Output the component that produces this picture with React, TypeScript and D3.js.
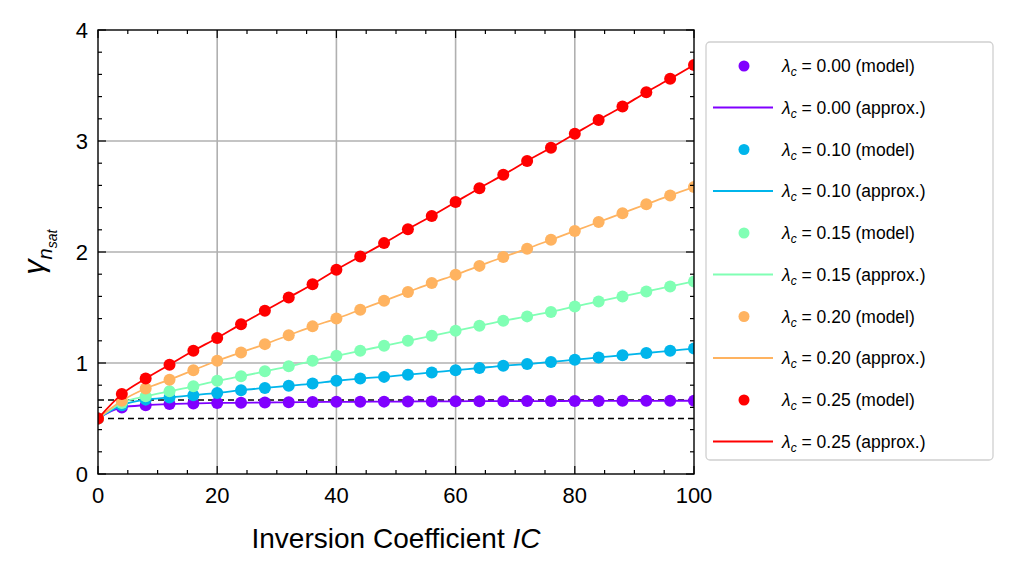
import React from 'react';
import * as d3 from 'd3';

const icValues = [0, 4, 8, 12, 16, 20, 24, 28, 32, 36, 40, 44, 48, 52, 56, 60, 64, 68, 72, 76, 80, 84, 88, 92, 96, 100];
const lambdas = ['0.00', '0.10', '0.15', '0.20', '0.25'];
const colors = ['#8000ff', '#00b5eb', '#80ffb4', '#ffb360', '#ff0000'];
const gamma00 = [0.5, 0.6, 0.62, 0.63, 0.635, 0.64, 0.642, 0.644, 0.646, 0.648, 0.65, 0.651, 0.652, 0.653, 0.654, 0.655, 0.656, 0.656, 0.657, 0.657, 0.658, 0.658, 0.659, 0.659, 0.66, 0.66];
const gamma10 = [0.5, 0.62, 0.67, 0.69, 0.71, 0.73, 0.755, 0.775, 0.795, 0.815, 0.84, 0.86, 0.875, 0.895, 0.915, 0.935, 0.955, 0.975, 0.99, 1.01, 1.03, 1.05, 1.07, 1.09, 1.11, 1.13];
const gamma15 = [0.5, 0.64, 0.7, 0.745, 0.79, 0.84, 0.88, 0.925, 0.97, 1.02, 1.065, 1.11, 1.155, 1.2, 1.245, 1.29, 1.335, 1.38, 1.42, 1.46, 1.51, 1.555, 1.6, 1.645, 1.69, 1.735];
const gamma20 = [0.5, 0.66, 0.77, 0.85, 0.935, 1.02, 1.095, 1.17, 1.25, 1.33, 1.4, 1.48, 1.56, 1.64, 1.72, 1.795, 1.875, 1.955, 2.03, 2.11, 2.19, 2.27, 2.35, 2.43, 2.51, 2.585];
const gamma25 = [0.5, 0.72, 0.86, 0.985, 1.11, 1.225, 1.35, 1.47, 1.59, 1.71, 1.84, 1.96, 2.08, 2.205, 2.325, 2.45, 2.575, 2.695, 2.82, 2.94, 3.065, 3.19, 3.31, 3.44, 3.56, 3.685];
const series = [gamma00, gamma10, gamma15, gamma20, gamma25];
const dashedLevels = [0.5, 2 / 3];
const xTicks = [0, 20, 40, 60, 80, 100];
const yTicks = [0, 1, 2, 3, 4];

const L = 98, R = 694, T = 30, B = 474;
const font = '"Liberation Sans", Arial, sans-serif';

export default function App() {
  const x = d3.scaleLinear().domain([0, 100]).range([L, R]);
  const y = d3.scaleLinear().domain([0, 4]).range([B, T]);
  const line = d3.line<number>().x((_, i) => x(icValues[i])).y(d => y(d)).curve(d3.curveMonotoneX);
  const xMinor = d3.range(0, 101, 5);
  const yMinor = d3.range(0, 4.001, 0.2);

  return (
    <svg width={1012} height={574} style={{ position: 'absolute', left: 0, top: 0, fontFamily: font }}>
      <rect width={1012} height={574} fill="#fff" />
      <defs>
        <clipPath id="plot"><rect x={L} y={T} width={R - L} height={B - T} /></clipPath>
      </defs>
      {xTicks.slice(1, -1).map(t => (
        <line key={'gx' + t} x1={x(t)} x2={x(t)} y1={T} y2={B} stroke="#b0b0b0" strokeWidth={1.6} />
      ))}
      {yTicks.slice(1, -1).map(t => (
        <line key={'gy' + t} x1={L} x2={R} y1={y(t)} y2={y(t)} stroke="#b0b0b0" strokeWidth={1.6} />
      ))}
      <g clipPath="url(#plot)">
        {dashedLevels.map(v => (
          <line key={v} x1={L} x2={R} y1={y(v)} y2={y(v)} stroke="#000" strokeWidth={1.6} strokeDasharray="6 4" />
        ))}
        {series.map((s, k) => (
          <g key={k}>
            <path d={line(s)!} fill="none" stroke={colors[k]} strokeWidth={1.8} />
            {s.map((v, i) => (
              <circle key={i} cx={x(icValues[i])} cy={y(v)} r={6} fill={colors[k]} />
            ))}
          </g>
        ))}
      </g>
      <rect x={L} y={T} width={R - L} height={B - T} fill="none" stroke="#000" strokeWidth={1.4} />
      {xMinor.map(t => (
        <g key={'xm' + t}>
          <line x1={x(t)} x2={x(t)} y1={B} y2={B - (t % 20 === 0 ? 8 : 4)} stroke="#000" strokeWidth={1.2} />
          <line x1={x(t)} x2={x(t)} y1={T} y2={T + (t % 20 === 0 ? 8 : 4)} stroke="#000" strokeWidth={1.2} />
        </g>
      ))}
      {yMinor.map((t, i) => (
        <g key={'ym' + i}>
          <line x1={L} x2={L + (i % 5 === 0 ? 8 : 4)} y1={y(t)} y2={y(t)} stroke="#000" strokeWidth={1.2} />
          <line x1={R} x2={R - (i % 5 === 0 ? 8 : 4)} y1={y(t)} y2={y(t)} stroke="#000" strokeWidth={1.2} />
        </g>
      ))}
      {xTicks.map(t => (
        <text key={'xl' + t} x={x(t)} y={B + 29} textAnchor="middle" fontSize={22}>{t}</text>
      ))}
      {yTicks.map(t => (
        <text key={'yl' + t} x={L - 10} y={y(t) + 8} textAnchor="end" fontSize={22}>{t}</text>
      ))}
      <text x={(L + R) / 2} y={548} textAnchor="middle" fontSize={28}>
        Inversion Coefficient <tspan fontStyle="italic">IC</tspan>
      </text>
      <text transform={`translate(44,${(T + B) / 2}) rotate(-90)`} textAnchor="middle" fontSize={30}>
        <tspan fontStyle="italic">γ</tspan>
        <tspan fontStyle="italic" fontSize={20} dy={8}>n</tspan>
        <tspan fontStyle="italic" fontSize={14} dy={5}>sat</tspan>
      </text>
      <rect x={706} y={42} width={287} height={418} rx={4} fill="#fff" stroke="#d0d0d0" strokeWidth={1.3} />
      {lambdas.map((lam, k) => {
        const y0 = 66 + k * 83.5;
        return (
          <g key={lam} fontSize={17.5}>
            <circle cx={744} cy={y0} r={5.5} fill={colors[k]} />
            <text x={782} y={y0 + 6}><tspan fontStyle="italic">λ</tspan><tspan fontStyle="italic" fontSize={12} dy={4}>c</tspan><tspan dy={-4}>{' =  '}{lam} (model)</tspan></text>
            <line x1={713} x2={773} y1={y0 + 41.5} y2={y0 + 41.5} stroke={colors[k]} strokeWidth={1.8} />
            <text x={782} y={y0 + 47.5}><tspan fontStyle="italic">λ</tspan><tspan fontStyle="italic" fontSize={12} dy={4}>c</tspan><tspan dy={-4}>{' =  '}{lam} (approx.)</tspan></text>
          </g>
        );
      })}
    </svg>
  );
}
